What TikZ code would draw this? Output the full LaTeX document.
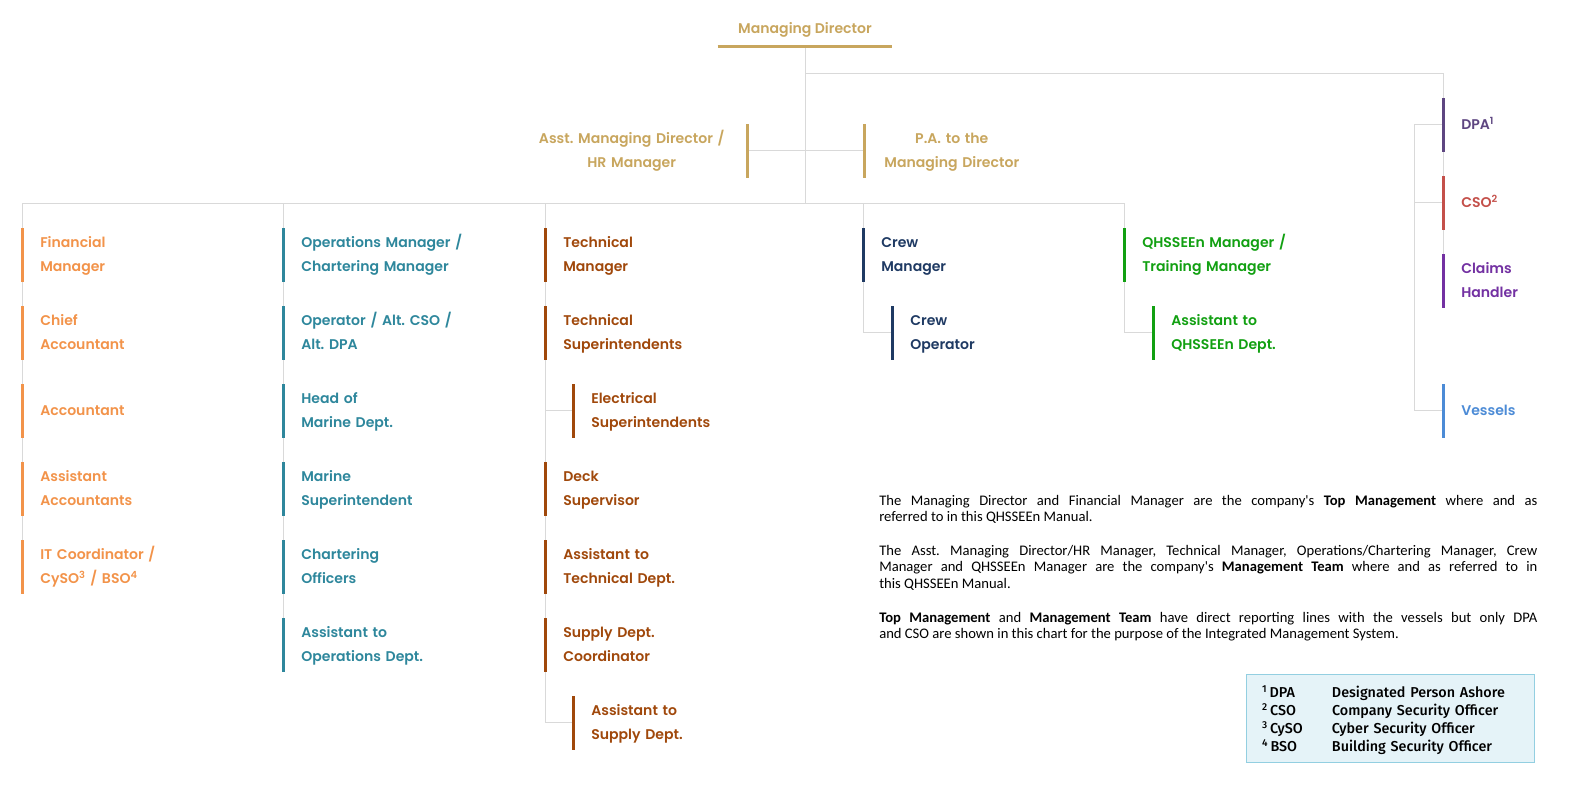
\documentclass[tikz,border=0pt]{standalone}
\usepackage{fontspec}
\setmainfont{Carlito}
\newfontfamily\rolefont{Poppins}[UprightFont=* SemiBold]
\newfontfamily\notefont{Carlito}
\newfontfamily\keyfont{Fira Sans}[UprightFont=* Medium]
\frenchspacing
\definecolor{gold600}  {HTML}{C8A65E}
\definecolor{orange500}{HTML}{F2934A}
\definecolor{teal600}  {HTML}{2E879C}
\definecolor{brown700} {HTML}{A0480B}
\definecolor{navy800}  {HTML}{1F3A63}
\definecolor{green600} {HTML}{12A012}
\definecolor{plum700}  {HTML}{5E4681}
\definecolor{red600}   {HTML}{C4504A}
\definecolor{violet700}{HTML}{7331A2}
\definecolor{blue500}  {HTML}{4C8BD6}
\definecolor{grey300}  {HTML}{D9D9D9}
\definecolor{ice100}   {HTML}{E5F3F8}
\definecolor{ice300}   {HTML}{93CFE1}
\pgfdeclarelayer{bg}
\pgfsetlayers{bg,main}
\tikzset{
  role/.style  ={anchor=north west, text=#1, align=left, text width=55mm,
                 minimum height=13.25mm, inner xsep=4.5mm, inner ysep=0pt,
                 font=\rolefont\fontsize{10}{17}\selectfont,
                 execute at begin node=\strut, execute at end node=\strut,
                 append after command={\pgfextra{\draw[#1, line width=0.75mm]
                   (\tikzlastnode.north west) -- (\tikzlastnode.south west);}}},
  roler/.style ={anchor=north east, text=#1, align=center, text width=51.5mm,
                 minimum height=13.25mm, inner xsep=3mm, inner ysep=0pt,
                 font=\rolefont\fontsize{10}{17}\selectfont,
                 execute at begin node=\strut, execute at end node=\strut,
                 append after command={\pgfextra{\draw[#1, line width=0.75mm]
                   (\tikzlastnode.north east) -- (\tikzlastnode.south east);}}},
  mdbox/.style ={text=gold600, minimum width=43.5mm, minimum height=8mm,
                 inner sep=0pt, font=\rolefont\fontsize{10}{17}\selectfont,
                 append after command={\pgfextra{\draw[gold600, line width=0.75mm]
                   (\tikzlastnode.south west) -- (\tikzlastnode.south east);}}},
  link/.style  ={draw=grey300, line width=0.25mm},
  note/.style  ={anchor=north west, align=justify, inner sep=0pt,
                 font=\notefont\fontsize{10.4}{11.5}\selectfont},
  legend/.style={draw=ice300, fill=ice100, line width=0.25mm,
                 minimum width=72mm, minimum height=22mm},
  keyrow/.style={align=left, text width=64mm, inner sep=0pt,
                 font=\keyfont\fontsize{10.2}{12.8}\selectfont}
}
\begin{document}
\begin{tikzpicture}[x=0.25mm, y=-0.25mm]
\useasboundingbox (0,0) rectangle (1584,793);

\node[mdbox] (md) at (805,30) {Managing Director};
\node[roler=gold600] (amd) at (747,124) {Asst. Managing Director /\\HR Manager};
\node[role=gold600, align=center, text width=37.75mm, inner xsep=3mm] (pa)
  at (864,124) {P.A. to the\\Managing Director};

% finance
\node[role=orange500] (fin)   at (22,228) {Financial\\Manager};
\node[role=orange500] (chief) at (22,306) {Chief\\Accountant};
\node[role=orange500] (acc)   at (22,384) {Accountant};
\node[role=orange500] (asacc) at (22,462) {Assistant\\Accountants};
\node[role=orange500] (itc)   at (22,540)
  {IT Coordinator /\\CySO\textsuperscript{3} / BSO\textsuperscript{4}};

% operations
\node[role=teal600] (ops)   at (283,228) {Operations Manager /\\Chartering Manager};
\node[role=teal600] (oper)  at (283,306) {Operator / Alt. CSO /\\Alt. DPA};
\node[role=teal600] (hmar)  at (283,384) {Head of\\Marine Dept.};
\node[role=teal600] (msup)  at (283,462) {Marine\\Superintendent};
\node[role=teal600] (chart) at (283,540) {Chartering\\Officers};
\node[role=teal600] (asops) at (283,618) {Assistant to\\Operations Dept.};

% technical
\node[role=brown700] (techm)  at (545,228) {Technical\\Manager};
\node[role=brown700] (tsup)   at (545,306) {Technical\\Superintendents};
\node[role=brown700] (elec)   at (573,384) {Electrical\\Superintendents};
\node[role=brown700] (deck)   at (545,462) {Deck\\Supervisor};
\node[role=brown700] (astech) at (545,540) {Assistant to\\Technical Dept.};
\node[role=brown700] (supply) at (545,618) {Supply Dept.\\Coordinator};
\node[role=brown700] (assup)  at (573,696) {Assistant to\\Supply Dept.};

% crew and QHSSEEn
\node[role=navy800] (crewm)  at (863,228) {Crew\\Manager};
\node[role=navy800] (crewop) at (892,306) {Crew\\Operator};
\node[role=green600] (qhs)   at (1124,228) {QHSSEEn Manager /\\Training Manager};
\node[role=green600] (asq)   at (1153,306) {Assistant to\\QHSSEEn Dept.};

% ashore roles on the right
\node[role=plum700, text width=25mm] (dpa)      at (1443,98)
  {DPA\textsuperscript{1}};
\node[role=red600, text width=25mm] (cso)       at (1443,176)
  {CSO\textsuperscript{2}};
\node[role=violet700, text width=25mm] (claims) at (1443,254) {Claims\\Handler};
\node[role=blue500, text width=25mm] (vessels)  at (1443,384) {Vessels};

\coordinate (hub) at (805,203);
\coordinate (top) at (805,73);
\coordinate (c1) at (22,203);
\coordinate (c5) at (1124,203);

\begin{pgfonlayer}{bg}
\draw[link] (md.south) -- (hub);
\draw[link] (amd.east) -- (pa.west);
\draw[link] (top) -| (claims.west);
\draw[link] (c1) -- (c5);
\draw[link] (c1) -- (itc.west);
\draw[link] (ops.north west |- hub) -- (asops.west);
\draw[link] (techm.north west |- hub) |- (assup.west);
\draw[link] (elec.west) -- (elec.west -| techm.west);
\draw[link] (crewm.north west |- hub) |- (crewop.west);
\draw[link] (c5) |- (asq.west);
\draw[link] (dpa.west) -- ++(-29,0) coordinate (rail) |- (vessels.west);
\draw[link] (cso.west) -- (cso.west -| rail);
\end{pgfonlayer}

\node[note, text width=164.5mm] (txt) at (879,495)
  {The Managing Director and Financial Manager are the company's
   \textbf{Top Management} where and as\linebreak
   referred to in this QHSSEEn Manual.\par\vspace{12.8pt}
   The Asst. Managing Director/HR Manager, Technical Manager,
   Operations/Chartering Manager, Crew\linebreak
   Manager and QHSSEEn Manager are the company's
   \textbf{Management Team} where and as referred to in\linebreak
   this QHSSEEn Manual.\par\vspace{12.8pt}
   \textbf{Top Management} and \textbf{Management Team} have direct reporting
   lines with the vessels but only DPA\linebreak
   and CSO are shown in this chart for the purpose of the Integrated
   Management System.};

\node[legend] (key) at (1390,718) {};
\node[keyrow] (keyrows) at (1390,721)
  {\begin{tabular}{@{}p{17.5mm}@{}l@{}}
   \textsuperscript{1}\,DPA  & Designated Person Ashore\\
   \textsuperscript{2}\,CSO  & Company Security Officer\\
   \textsuperscript{3}\,CySO & Cyber Security Officer\\
   \textsuperscript{4}\,BSO  & Building Security Officer
   \end{tabular}};
\end{tikzpicture}
\end{document}
